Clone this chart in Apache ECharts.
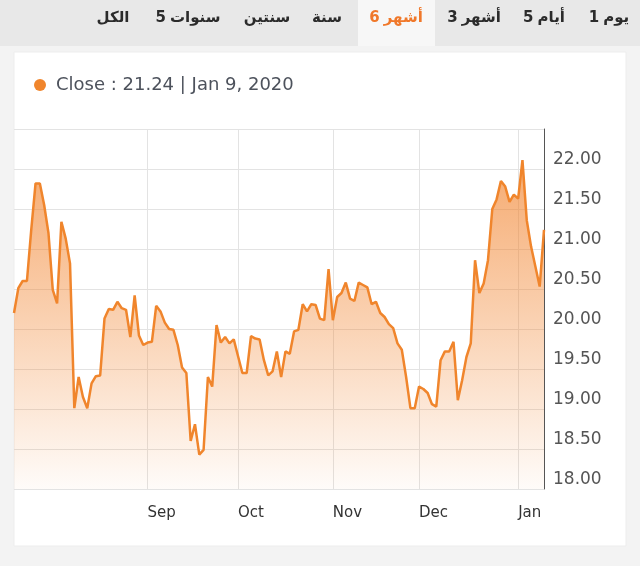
<!DOCTYPE html>
<html>
<head>
<meta charset="utf-8">
<script src="https://cdn.jsdelivr.net/npm/echarts@6/dist/echarts.min.js"></script>
<style>
html,body{margin:0;padding:0;background:#f3f3f3;}
#c{width:640px;height:566px;}
</style>
</head>
<body>
<div id="c"></div>
<script>
// ---- data ----
const dates = [
"2019-07-11","2019-07-14","2019-07-15","2019-07-16","2019-07-17","2019-07-18","2019-07-21","2019-07-22","2019-07-24","2019-07-25","2019-07-28","2019-07-29","2019-07-30","2019-07-31",
"2019-08-01","2019-08-04","2019-08-05","2019-08-06","2019-08-07","2019-08-08","2019-08-15","2019-08-18","2019-08-19","2019-08-20","2019-08-21","2019-08-22","2019-08-25","2019-08-26","2019-08-27","2019-08-28","2019-08-29",
"2019-09-02","2019-09-03","2019-09-04","2019-09-05","2019-09-08","2019-09-09","2019-09-10","2019-09-11","2019-09-12","2019-09-15","2019-09-16","2019-09-17","2019-09-18","2019-09-19","2019-09-22","2019-09-23","2019-09-24","2019-09-25","2019-09-26","2019-09-29","2019-09-30",
"2019-10-01","2019-10-02","2019-10-03","2019-10-07","2019-10-08","2019-10-09","2019-10-10","2019-10-13","2019-10-14","2019-10-15","2019-10-16","2019-10-17","2019-10-20","2019-10-21","2019-10-22","2019-10-23","2019-10-24","2019-10-27","2019-10-28","2019-10-29","2019-10-30","2019-10-31",
"2019-11-03","2019-11-04","2019-11-05","2019-11-06","2019-11-07","2019-11-10","2019-11-11","2019-11-12","2019-11-13","2019-11-14","2019-11-17","2019-11-18","2019-11-19","2019-11-20","2019-11-21","2019-11-24","2019-11-25","2019-11-26","2019-11-27","2019-11-28",
"2019-12-01","2019-12-02","2019-12-03","2019-12-04","2019-12-05","2019-12-08","2019-12-09","2019-12-10","2019-12-11","2019-12-12","2019-12-15","2019-12-16","2019-12-17","2019-12-18","2019-12-19","2019-12-22","2019-12-23","2019-12-24","2019-12-25","2019-12-26","2019-12-29","2019-12-30","2019-12-31",
"2020-01-01","2020-01-02","2020-01-05","2020-01-06","2020-01-07","2020-01-08","2020-01-09"
];
const closeValues = [
20.20,20.51,20.60,20.60,21.24,21.82,21.82,21.55,21.20,20.49,20.32,21.34,21.13,20.82,
19.01,19.40,19.15,19.01,19.32,19.41,19.42,20.13,20.25,20.24,20.34,20.26,20.24,19.90,20.42,19.92,19.80,
19.83,19.84,20.29,20.22,20.08,20.00,19.99,19.80,19.52,19.45,18.60,18.81,18.43,18.49,19.40,19.28,20.05,19.83,19.90,19.82,19.87,
19.66,19.45,19.45,19.91,19.88,19.87,19.61,19.42,19.47,19.72,19.40,19.72,19.69,19.97,19.99,20.31,20.22,20.31,20.30,20.13,20.11,20.75,
20.11,20.40,20.45,20.58,20.38,20.35,20.58,20.55,20.52,20.31,20.34,20.20,20.15,20.06,20.01,19.82,19.74,19.40,19.01,19.01,
19.28,19.25,19.20,19.06,19.03,19.61,19.72,19.72,19.84,19.11,19.36,19.65,19.82,20.86,20.45,20.57,20.86,21.50,21.62,21.85,21.78,21.59,21.68,
21.63,22.11,21.36,21.03,20.78,20.53,21.24
];
const monthNames = ["Jan","Feb","Mar","Apr","May","Jun","Jul","Aug","Sep","Oct","Nov","Dec"];
const xTickLabels = ["Sep","Oct","Nov","Dec","Jan"];
const yTicks = ["18.00","18.50","19.00","19.50","20.00","20.50","21.00","21.50","22.00"];
const tabLabels = ["1 يوم","5 أيام","3 أشهر","6 أشهر","سنة","سنتين","5 سنوات","الكل"];
const tabCenters = [609,544,474,396,327,267,188,113];
const selectedTab = 3;
const legendText = "Close : 21.24 | Jan 9, 2020";

// ---- helpers ----
const monthOf = d => parseInt(d.slice(5,7),10) - 1;
const isTick = i => i > 0 && monthOf(dates[i]) !== monthOf(dates[i-1]) &&
                    xTickLabels.indexOf(monthNames[monthOf(dates[i])]) >= 0;

const ORANGE = '#f0852c';
const TAB_FONT = 'bold 15px "DejaVu Sans", "Noto Sans"';
const measureCtx = document.createElement('canvas').getContext('2d');
measureCtx.font = TAB_FONT;
const textW = s => measureCtx.measureText(s).width;

const chart = echarts.init(document.getElementById('c'), null, {renderer:'canvas'});

const graphics = [
  {type:'rect', shape:{x:0,y:0,width:640,height:46}, style:{fill:'#e8e8e8'}, silent:true, z:0},
  {type:'rect', shape:{x:358,y:0,width:77,height:46}, style:{fill:'#f7f7f7'}, silent:true, z:1},
  {type:'rect', shape:{x:14,y:52,width:612,height:494}, style:{fill:'#ffffff', stroke:'#ededed', lineWidth:1}, silent:true, z:0},
  {type:'circle', shape:{cx:40,cy:85,r:6}, style:{fill:ORANGE}, z:5},
  {type:'text', x:56, y:85, style:{text:legendText, font:'18px "DejaVu Sans"', fill:'#4d525c', verticalAlign:'middle'}, z:5}
];
// Tabs: number drawn on the left of the Arabic word (as in the reference)
tabLabels.forEach((t,i)=>{
  const fill = i===selectedTab ? '#f0782a' : '#2b2b2b';
  const sp = t.indexOf(' ');
  if (sp > 0 && /^\d+$/.test(t.slice(0,sp))) {
    const num = t.slice(0,sp), word = t.slice(sp+1);
    const gap = 4, wn = textW(num), ww = textW(word);
    const left = tabCenters[i] - (wn + gap + ww)/2;
    graphics.push({type:'text', x:left, y:18, style:{text:num, font:TAB_FONT, fill, align:'left', verticalAlign:'middle'}, z:5});
    graphics.push({type:'text', x:left + wn + gap, y:18, style:{text:word, font:TAB_FONT, fill, align:'left', verticalAlign:'middle'}, z:5});
  } else {
    graphics.push({type:'text', x:tabCenters[i], y:18, style:{text:t, font:TAB_FONT, fill, align:'center', verticalAlign:'middle'}, z:5});
  }
});

chart.setOption({
  animation:false,
  backgroundColor:'#f3f3f3',
  graphic:graphics,
  grid:{left:14, right:96, top:129, bottom:77, containLabel:false},
  xAxis:{
    type:'category',
    data:dates,
    boundaryGap:false,
    axisLine:{show:false},
    axisTick:{show:false},
    axisLabel:{
      interval:(i)=>isTick(i),
      formatter:(v)=>monthNames[monthOf(v)],
      align:'left',
      margin:17,
      color:'#333',
      fontFamily:'DejaVu Sans',
      fontSize:15
    },
    splitLine:{show:true, interval:(i)=>isTick(i), lineStyle:{color:'#e3e3e3', width:1}}
  },
  yAxis:{
    type:'value',
    position:'right',
    min:18, max:22.5, interval:0.5,
    axisLine:{show:true, lineStyle:{color:'#555', width:1}},
    axisTick:{show:false},
    axisLabel:{
      formatter:(v)=>{ const s=v.toFixed(2); return yTicks.indexOf(s)>=0 ? s : ''; },
      verticalAlign:'bottom',
      margin:9,
      padding:[0,0,1,0],
      color:'#555',
      fontFamily:'DejaVu Sans',
      fontSize:17
    },
    splitLine:{show:true, lineStyle:{color:'#e3e3e3', width:1}}
  },
  series:[{
    type:'line',
    data:closeValues,
    showSymbol:false,
    symbol:'none',
    lineStyle:{color:ORANGE, width:2.5},
    itemStyle:{color:ORANGE},
    areaStyle:{
      color:new echarts.graphic.LinearGradient(0,0,0,1,[
        {offset:0, color:'rgba(241,128,40,0.95)'},
        {offset:0.5, color:'rgba(241,128,40,0.5)'},
        {offset:1, color:'rgba(241,128,40,0.04)'}
      ])
    }
  }]
});
</script>
</body>
</html>
